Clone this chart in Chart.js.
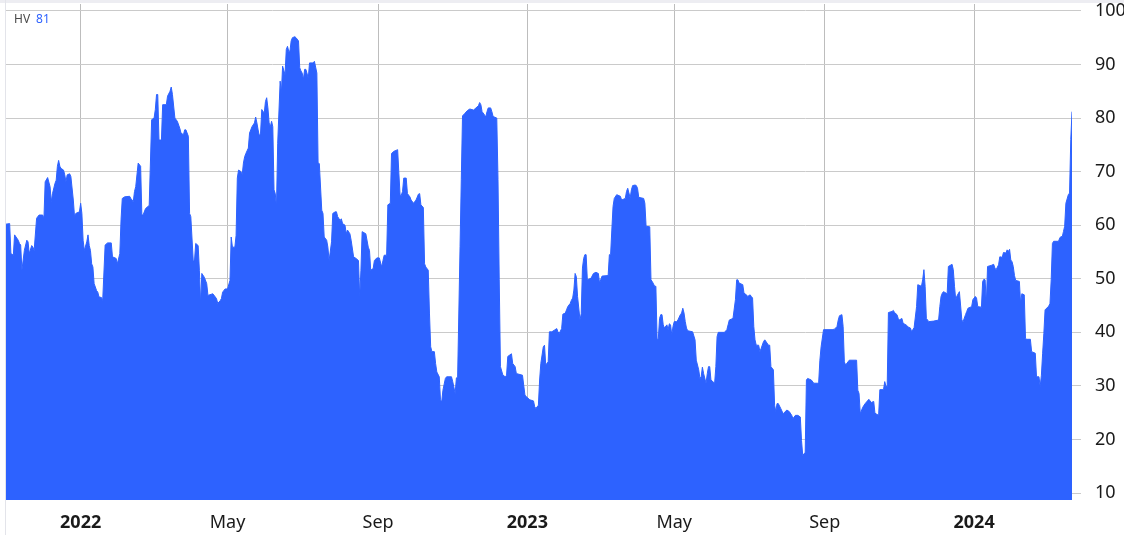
<!DOCTYPE html>
<html lang="es">
<head>
<meta charset="utf-8">
<title>HV</title>
<script src="https://cdn.jsdelivr.net/npm/chart.js@4.4.1/dist/chart.umd.min.js"></script>
<style>
  html, body { margin: 0; padding: 0; background: #fff; }
  #contenedor { position: relative; width: 1124px; height: 535px; overflow: hidden; }
  #myChart { position: absolute; left: 0; top: 0; }
  #bandaSuperior { position: absolute; left: 0; top: 0; width: 1124px; height: 3px; background: #ededf2; }
  #bordeIzquierdo { position: absolute; left: 5px; top: 0; width: 1px; height: 535px; background: #e3e4ea; }
  #leyenda { position: absolute; left: 14px; top: 10px; font: 12px "Noto Sans", sans-serif; color: #4a4a4a; }
  #leyenda span { color: #2d62ff; margin-left: 6px; }
</style>
</head>
<body>
<div id="contenedor">
  <canvas id="myChart" width="1124" height="535"></canvas>
  <div id="bandaSuperior"></div>
  <div id="bordeIzquierdo"></div>
  <div id="leyenda">HV<span id="ultimoValor"></span></div>
</div>
<script>
/* dias contados desde 2021-11-01 y volatilidad historica (HV) */
const tramo1Dias = [0,3,4,6,7,10,11,12,13,15,17,18,19,21,22,23,25,27,30,31,32,34,36,37,38,40,41,42,43,44,45,47,48,49,50,52,53,55,56,57,60,61,62,63,64,66,67,68,69,70,71,72,74,75,76,78,79,81,83,86,87,90,91,93,94,95,97,101,102,104,105,106,108,110,111,112,114,117,119,121,122,123,124,125,127,128,131,132,134,135,136,138,140,142,143,145,146,147,149,150,151,153,154,155,157,158,159,160,162,164,165,169,172];
const tramo1Hv = [60.2,60.3,54.7,54.4,58.2,57.2,56.6,56.3,51.6,55.3,57.2,56.9,54.7,56.2,55.9,55.3,61.3,61.9,61.9,61.3,68.1,68.9,67.2,64.4,65.9,67.8,68.4,71,72.1,71,70.6,70.3,69.4,68.1,69.4,69.6,69.1,64.7,61.6,62.2,62.5,64.1,62.2,57.2,55.3,56.9,58.2,56.2,55.3,52.8,52.2,49.1,47.8,47.5,46.6,46.5,45.9,56.3,56.7,56.7,54.1,53.8,52.8,54.7,61,65,65.3,65.4,65,64.4,66.3,67.2,71.6,71,61.9,61.9,63.1,63.7,79.7,80,81.6,84.4,84.4,75.9,75.9,82.5,82.5,84.1,85,85.8,84.4,80,79.4,78.1,77.2,76.9,77.8,77.8,76.6,62.2,61.6,53.3,53.3,56.6,56.2,51.6,45.3,51,50.3,49.1,46.9,47.2,46.3];

const tramo2Dias = [173,175,176,177,179,181,183,184,185,187,188,189,190,192,193,194,195,196,198,199,200,201,203,204,205,206,207,208,209,211,212,213,214,215,216,217,218,219,220,221,222,224,225,226,228,229,230,231,232,233,234,236,237,239,240,241,242,243,244,245,247,248,251,252,254,255,256,258,259,260,262,263,264,266,267,269,270,271,273,274,275,277,278,279,281,282,284,286,288,289,290,291,294,296,297,298,300,301,303,305,307,308,309,311,312,314,315,317,320,321,322,323,324,325,327,328,330,331,333,335,337,338,339,341,342,343,345];
const tramo2Hv = [45.4,45.9,46.3,47.5,48.1,48.1,49.7,57.8,55.9,55.9,58.1,68.8,70.3,70,69.4,71.6,72.8,73.4,74.4,77.2,77.8,78.4,79.1,80.2,79.1,77.8,76.6,77.2,81.6,80.9,83.1,83.8,81.9,79.1,78.4,79.4,78.4,66.6,65.9,63.4,75.3,86.9,84.7,89.7,88.1,92.8,93.4,92.5,92.5,94.4,95,95.2,95,94.4,89.4,88.8,88.4,87.2,89.1,89.1,87.5,90.3,90.3,90.6,88.4,71.6,71.5,62.8,62.2,57.8,57.2,55.9,53.4,56.9,62.2,62.5,62.5,61.6,60.9,61.2,60.3,60,58.4,59.1,58.4,57.2,54.1,53.8,53.4,46.6,51.6,58.8,58.4,55.9,55.3,51.6,51.9,53.4,53.9,53.9,52.2,53.4,54.4,54.4,63.8,64.1,73.4,73.8,74.1,69.7,65.6,65.6,66.3,68.8,68.8,65.9,65.3,64.7,64.1,64.7,65.8,65.9,63.8,63.3,52.8,52.2,51.6];

const tramo3Dias = [346,347,348,350,351,352,354,355,356,357,359,360,364,365,367,368,369,371,372,373,375,377,379,382,384,386,387,388,389,391,392,393,394,396,397,398,401,402,403,404,406,408,409,410,413,414,416,417,422,424,425,428,431,432,433,435,436,437,439,440,441,443,444,446,448,450,451,452,454,455,457,458,459,461,462,463,464,465,466,467,469,470,471,472,473,474,475,478,480,482,484,485,487,492,493,494,495,496,497,499,502,503,506,507,508,510,511,512,514,515,516,517,521,522,523,526];
const tramo3Hv = [43.6,37.3,36.4,36.4,34.2,32.6,31.7,27.4,27,29.2,31.4,31.7,31.7,30.8,28.6,31.5,31.5,56,68.5,80.4,80.9,81.4,81.7,81.5,81.9,82.3,82.9,82.5,81.2,80.6,80.2,81.2,81.9,81.9,81.2,80.3,80,68.5,49.8,33.6,32,31.7,32,35.5,36,34.2,33.6,32.3,32,28.3,28,27.4,27.2,26.1,25.8,26.4,31.1,34.2,37.3,37.6,33.9,34.5,40.1,40.1,40.4,40.7,40.1,39.8,40.7,43.4,43.6,44.2,44.8,45.4,46,46.4,47.9,51,50.4,46.7,42.3,43.5,52,53.8,54.5,54.5,49.8,50.1,51,51.2,51,49.2,50.5,50.6,54.5,54.5,59.1,63.5,65,65.7,65.4,64.7,65,66.3,66.9,65.1,66.6,67.4,67.5,67.4,66.9,65.2,65,64.1,59.8,59.7];

const tramo4Dias = [527,528,530,531,532,533,534,535,536,537,538,540,541,542,543,544,545,546,548,549,551,552,553,554,555,556,557,561,563,564,566,567,568,569,570,572,573,574,575,576,579,580,581,582,587,589,590,591,594,596,597,598,599,602,603,605,606,608,609,610,611,612,613,615,616,617,619,620,623,624,625,627,628,629,630,631,633,635,638,640,642,643,645,647,649,650,651,653,654,655,658,660,663,664,665,666,668,675,677,679,680,681,683,684,685,686,689,695,696,697,698,700];
const tramo4Hv = [49.8,49.5,48.6,48.6,38.6,38.9,42.6,43.3,43.3,41.4,40.8,41.4,40.5,41.6,41.4,39.5,41.1,42,42,42.3,43.3,43.6,44.5,43.6,42,40.8,40.3,40.1,38.6,34.8,33,31.4,31.7,33.5,32.3,30.5,32.3,33.6,33.6,31.1,30.5,33.6,39.2,40,40,40.5,41.4,42.3,42.6,46.1,49.8,49.8,49.2,48.9,47.3,47,46.7,47,46.7,46.4,41.1,38.6,37.6,37.6,36.4,37,38.3,38.6,37.6,37.6,33.6,33,26.4,25.2,26.7,26.7,25.8,24.8,25.5,25.2,24.5,23.9,24.5,24.5,24.2,19.8,17,17.6,31.1,31.4,31.1,30.5,30.5,30.6,34.8,37.3,40.5,40.5,40.6,41.1,42.3,43.1,43.3,41.1,34.5,33.9,34.8,34.8,29.2,28.6,24.8,26];

const tramo5Dias = [702,705,707,709,710,713,714,717,718,719,720,721,724,725,726,728,729,730,732,733,736,737,739,740,742,744,745,748,749,750,751,752,754,758,762,763,764,765,766,769,770,773,774,775,776,777,779,781,782,784,785,786,789,790,792,793,794,797,798,799,800,801,802,805,807,808,809,811,812,814,815,817,818,819,820,821,822,823,824,825,828,829,830,832,833,834,837,838,841,842,844,845,846,847,848,849,852,853,854,855,856,860,861,862,863,864,865,866,868,869,870,871];
const tramo5Hv = [26.7,27.5,26.9,27.1,24.9,24.5,29.3,29.3,30.8,29.9,29.9,43.7,43.9,44.1,43.7,43.3,42.6,42.3,42.6,41.7,41.3,41,40.8,40.1,40.9,44.8,48.9,48.6,49.8,51.7,48.6,42.6,42,42.1,42.3,44.8,46.7,47.3,47.6,47.2,52.3,52.7,51.7,48.6,46.1,46.8,47.6,42.3,42,43.3,43.9,44.5,44.8,46.1,46.7,46.4,44.8,44.7,49.5,49.9,49.8,45.4,52.3,52.5,52.7,52,51.7,52.6,54.1,54,54.9,54.8,55.4,55.1,55.5,53.5,53.2,52.3,50.6,49.7,49.5,45.4,47.2,47,38.9,38.7,38.7,36.4,36.1,31.7,31.7,29.9,32,36.1,39.8,44.2,44.9,45.4,49.8,56.6,57,57,57.6,57.9,57.8,58.8,59.8,64.1,65.7,66,76,81.2];

// etiquetas del eje x (dias desde 2021-11-01)
const tickDias = [61, 181, 304, 426, 546, 669, 791];
const tickEtiquetas = ['2022', 'May', 'Sep', '2023', 'May', 'Sep', '2024'];
const tickNegrita = [true, false, false, true, false, false, true];

// eje y
const tickValores = [10, 20, 30, 40, 50, 60, 70, 80, 90, 100];

const colorSerie = '#2d62ff';
const fuente = 'Noto Sans';

let grafico;

function dataParaElGrafico() {
    const dias = [].concat(tramo1Dias, tramo2Dias, tramo3Dias, tramo4Dias, tramo5Dias);
    const hv = [].concat(tramo1Hv, tramo2Hv, tramo3Hv, tramo4Hv, tramo5Hv);

    if (dias.length != hv.length) {
        console.warn('dias y hv no tienen el mismo largo', dias.length, hv.length);
    }

    const data = dias.map((dia, i) => {
        return { x: dia, y: hv[i] };
    });

    const datasets = [
        {
            label: 'HV',
            data,
            borderColor: colorSerie,
            backgroundColor: colorSerie,
            borderWidth: 1,
            pointRadius: 0,
            tension: 0,
            fill: 'start'
        }
    ];

    return { datasets };
}

function cargarGrafico() {
    const data = dataParaElGrafico();

    const config = {
        type: 'line',
        data,
        options: {
            responsive: false,
            animation: false,
            events: [],
            layout: { padding: { left: 6, top: 4, right: 0, bottom: 0 } },
            plugins: {
                legend: { display: false },
                tooltip: { enabled: false }
            },
            scales: {
                x: {
                    type: 'linear',
                    min: 0,
                    max: 871,
                    border: { display: false },
                    grid: { color: '#bdbdbd', drawTicks: false },
                    ticks: {
                        autoSkip: false,
                        maxRotation: 0,
                        padding: 12,
                        color: '#1a1a1a',
                        font: (ctx) => ({ family: fuente, size: 18, weight: tickNegrita[ctx.index] ? 'bold' : 'normal' }),
                        callback: (valor, indice) => tickEtiquetas[indice]
                    },
                    afterBuildTicks: (escala) => {
                        escala.ticks = tickDias.map((v) => ({ value: v }));
                    },
                    afterFit: (escala) => {
                        escala.height = 35;
                        escala.paddingLeft = 0;
                        escala.paddingRight = 0;
                    }
                },
                y: {
                    position: 'right',
                    min: 8.7,
                    max: 101.3,
                    border: { display: false },
                    grid: { color: '#cacaca', tickLength: 9 },
                    ticks: {
                        padding: 14,
                        color: '#1a1a1a',
                        font: { family: fuente, size: 18 },
                        callback: (valor) => String(valor)
                    },
                    afterBuildTicks: (escala) => {
                        escala.ticks = tickValores.map((v) => ({ value: v }));
                    },
                    afterFit: (escala) => {
                        escala.width = 52;
                        escala.paddingTop = 0;
                        escala.paddingBottom = 0;
                    }
                }
            }
        }
    };

    const chartDOM = document.getElementById('myChart');

    if (grafico != undefined) {
        grafico.destroy();
    }
    grafico = new Chart(chartDOM, config);

    // ultimo valor de la serie en la leyenda
    const ultimo = tramo5Hv[tramo5Hv.length - 1];
    document.getElementById('ultimoValor').textContent = Math.round(ultimo);
}

cargarGrafico();
</script>
</body>
</html>
